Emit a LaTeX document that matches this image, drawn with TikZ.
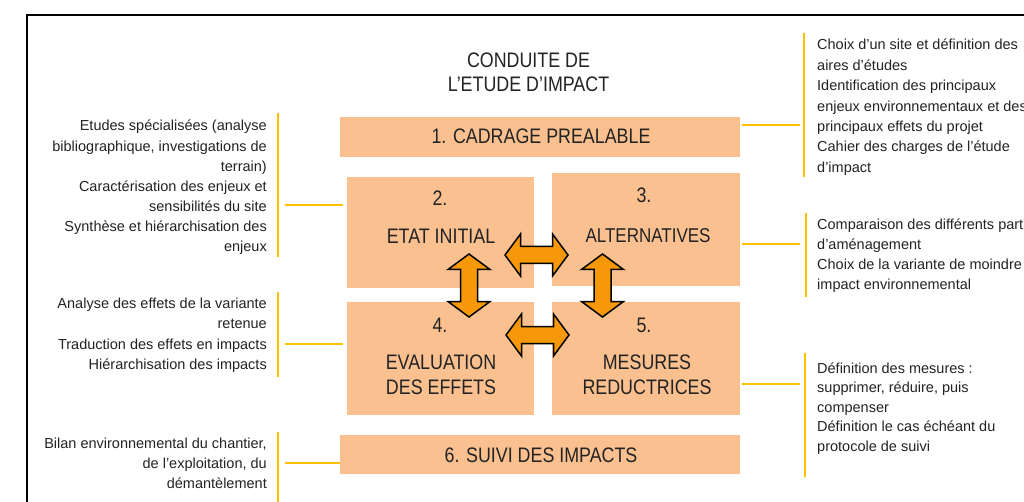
\documentclass[tikz,border=0pt]{standalone}
\usepackage{fontspec}
\setmainfont{Liberation Sans}
\newfontfamily\stagefont[FakeStretch=0.85]{Liberation Sans}
\definecolor{peach}{RGB}{250,192,144}
\definecolor{amber}{RGB}{247,152,8}
\definecolor{gold}{RGB}{255,192,0}
\definecolor{ink}{RGB}{35,35,35}
\begin{document}
\begin{tikzpicture}[x=1pt,y=-1pt,
  stage/.style={rectangle, fill=peach, draw=none, inner sep=0},
  stagetext/.style={font=\stagefont\fontsize{21}{25}\selectfont, text=ink, inner sep=0, align=center},
  sidenote/.style={text=ink, inner sep=0},
  conn/.style={draw=gold, line width=1.6},
  frame/.style={draw=black, line width=2.2},
  arrowshape/.style={fill=amber, draw=black, line width=1.5, line join=miter},
  dblarrow/.pic={\path[arrowshape] (-31.5,0) -- (-16,21) -- (-16,8.5) -- (16,8.5) -- (16,21)
      -- (31.5,0) -- (16,-21) -- (16,-8.5) -- (-16,-8.5) -- (-16,-21) -- cycle;}]
\useasboundingbox (0,0) rectangle (1024,502);
\clip (0,0) rectangle (1024,502);
\fill[white] (0,0) rectangle (1024,502);

% outer frame
\draw[frame] (1040,15) -- (27,15) -- (27,520);

% title
\node[stagetext, font=\stagefont\fontsize{21}{24}\selectfont] (title) at (528.5,72)
  {CONDUITE DE\\L’ETUDE D’IMPACT};

% stages
\node[stage, minimum width=400, minimum height=40] (b1) at (540,137) {};
\node[stage, minimum width=187, minimum height=111] (b2) at (440.5,232.5) {};
\node[stage, minimum width=188, minimum height=113] (b3) at (646,229.5) {};
\node[stage, minimum width=187, minimum height=113] (b4) at (440.5,358.5) {};
\node[stage, minimum width=188, minimum height=113] (b5) at (646,358.5) {};
\node[stage, minimum width=400, minimum height=39] (b6) at (540,454.5) {};

\node[stagetext] (t1) at (541,136) {1. CADRAGE PREALABLE};
\node[stagetext] (n2) at (440,198) {2.};
\node[stagetext] (t2) at (441,236) {ETAT INITIAL};
\node[stagetext] (n3) at (644,195) {3.};
\node[stagetext, font=\stagefont\fontsize{20}{25}\selectfont] (t3) at (648,236) {ALTERNATIVES};
\node[stagetext] (n4) at (440,325) {4.};
\node[stagetext] (t4) at (441,374.5) {EVALUATION\\DES EFFETS};
\node[stagetext] (n5) at (644,325) {5.};
\node[stagetext] (t5) at (647,374.5) {MESURES\\REDUCTRICES};
\node[stagetext] (t6) at (541,455) {6. SUIVI DES IMPACTS};

% exchanges between stages
\pic (a23) at (536.5,255) {dblarrow};
\pic (a45) at (537.5,335) {dblarrow};
\pic[rotate=90] (a24) at (469,285.5) {dblarrow};
\pic[rotate=90] (a35) at (602.5,285.5) {dblarrow};

% left notes (anchored on the baseline of their last line)
\node[sidenote, align=right, anchor=base east, font=\fontsize{14.5}{20.1}\selectfont] (l1) at (267,251.6)
  {Etudes spécialisées (analyse\\bibliographique, investigations de\\terrain)\\Caractérisation des enjeux et\\sensibilités du site\\Synthèse et hiérarchisation des\\enjeux};
\node[sidenote, align=right, anchor=base east, font=\fontsize{14.5}{20.6}\selectfont] (l2) at (267,369.8)
  {Analyse des effets de la variante\\retenue\\Traduction des effets en impacts\\Hiérarchisation des impacts};
\node[sidenote, align=right, anchor=base east, font=\fontsize{14.5}{20}\selectfont] (l3) at (267,488)
  {Bilan environnemental du chantier,\\de l’exploitation, du\\démantèlement};

% right notes
\node[sidenote, align=left, anchor=base west, font=\fontsize{14.5}{20.4}\selectfont] (r1) at (817,172.4)
  {Choix d’un site et définition des\\aires d’études\\Identification des principaux\\enjeux environnementaux et des\\principaux effets du projet\\Cahier des charges de l’étude\\d’impact};
\node[sidenote, align=left, anchor=base west, font=\fontsize{14.5}{20}\selectfont] (r2) at (817,290)
  {Comparaison des différents partis\\d’aménagement\\Choix de la variante de moindre\\impact environnemental};
\node[sidenote, align=left, anchor=base west, font=\fontsize{14.5}{19.5}\selectfont] (r3) at (817,451)
  {Définition des mesures :\\supprimer, réduire, puis\\compenser\\Définition le cas échéant du\\protocole de suivi};

% brackets
\draw[conn] (278,113) -- (278,257);
\draw[conn] (278,292) -- (278,377);
\draw[conn] (278,432) -- (278,502);
\draw[conn] (804,33) -- (804,177);
\draw[conn] (806,213) -- (806,297);
\draw[conn] (805,353) -- (805,477);

% leaders
\coordinate (cl1) at (285,205);
\coordinate (cl2) at (285,344);
\coordinate (cl3) at (285,463);
\coordinate (cr1) at (800,125);
\coordinate (cr2) at (800,244);
\coordinate (cr3) at (800,384);
\draw[conn] ([xshift=-4pt]cl1 -| b2.west) -- (cl1);
\draw[conn] ([xshift=-4pt]cl2 -| b4.west) -- (cl2);
\draw[conn] (cl3 -| b6.west) -- (cl3);
\draw[conn] ([xshift=2pt]cr1 -| b1.east) -- (cr1);
\draw[conn] ([xshift=2pt]cr2 -| b3.east) -- (cr2);
\draw[conn] ([xshift=2pt]cr3 -| b5.east) -- (cr3);
\end{tikzpicture}
\end{document}
